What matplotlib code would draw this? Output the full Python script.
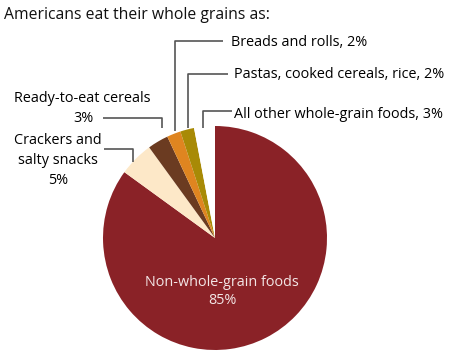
import matplotlib.pyplot as plt

# slices, clockwise from 12 o'clock
labels = ["Non-whole-grain foods", "Crackers and salty snacks", "Ready-to-eat cereals",
          "Breads and rolls", "Pastas, cooked cereals, rice", "All other whole-grain foods"]
values = [85, 5, 3, 2, 2, 3]
colors = ["#8a2227", "#fde8c8", "#6b3b21", "#df8520", "#a88a06", "#ffffff"]

W, H = 453, 359
plt.rcParams['font.family'] = ['Open Sans', 'DejaVu Sans']

fig = plt.figure(figsize=(W / 100, H / 100), dpi=100)
ax = fig.add_axes([0, 0, 1, 1])


def Y(y):
    # pixel row -> data y
    return H - y


ax.pie(values, colors=colors, startangle=90, counterclock=False,
       center=(215, Y(238)), radius=112, frame=True,
       wedgeprops=dict(linewidth=0))
ax.set_xlim(0, W)
ax.set_ylim(0, H)
ax.set_aspect('equal')
ax.axis('off')

ax.text(4, Y(15), "Americans eat their whole grains as:", fontsize=11.3,
        va='center', ha='left', color='#111111')

lc = '#555555'
lw = 1.2
fs = 10.4


def leader(pts):
    xs = [p[0] for p in pts]
    ys = [Y(p[1]) for p in pts]
    ax.plot(xs, ys, color=lc, lw=lw, solid_capstyle='butt')


# Breads and rolls
leader([(223, 41), (175, 41), (175, 131)])
ax.text(231, Y(42), f"{labels[3]}, {values[3]}%", fontsize=fs, va='center', ha='left')
# Pastas
leader([(228, 74), (188, 74), (188, 128)])
ax.text(234, Y(75), f"{labels[4]}, {values[4]}%", fontsize=fs, va='center', ha='left')
# All other
leader([(232, 111), (203, 111), (203, 128)])
ax.text(234, Y(115), f"{labels[5]}, {values[5]}%", fontsize=fs, va='center', ha='left')
# Ready-to-eat cereals
leader([(103, 118), (162, 118), (162, 128)])
ax.text(82, Y(99), labels[2], fontsize=fs, va='center', ha='center')
ax.text(83, Y(118), f"{values[2]}%", fontsize=fs, va='center', ha='center')
# Crackers
leader([(104, 149), (133, 149), (133, 162)])
for i, s in enumerate(["Crackers and", "salty snacks", f"{values[1]}%"]):
    ax.text(58, Y(141 + 20 * i), s, fontsize=fs, va='center', ha='center')
# inside label
ax.text(222, Y(283), labels[0], fontsize=fs, va='center', ha='center', color='#f3e6e6')
ax.text(222, Y(301), f"{values[0]}%", fontsize=fs, va='center', ha='center', color='#f3e6e6')

fig.savefig('out.png', dpi=100)
